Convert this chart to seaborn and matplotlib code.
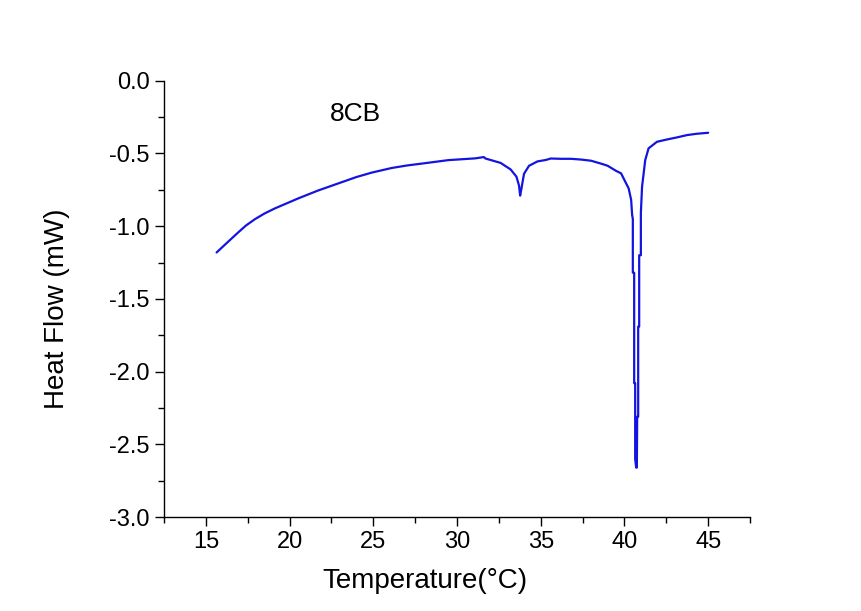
import matplotlib
matplotlib.use("Agg")
import matplotlib.pyplot as plt
from matplotlib.ticker import MultipleLocator
import pandas as pd
import seaborn as sns

sns.set_theme(style="ticks")
plt.rcParams['font.family'] = ['Liberation Sans', 'DejaVu Sans']
plt.rcParams['text.color'] = 'black'
plt.rcParams['axes.labelcolor'] = 'black'

# DSC trace of 8CB
temperature = [15.64, 16.3, 16.93, 17.4, 17.93, 18.5, 19.12, 20.52, 21.7, 22.91,
               24.0, 24.9, 26.1, 27.0, 28.09, 29.48, 31.08, 31.6, 31.7, 32.6,
               33.2, 33.55, 33.7, 33.77, 33.85, 34.0, 34.3, 34.8, 35.3, 35.6,
               36.2, 36.8, 37.4, 38.0, 38.6, 39.0, 39.5, 39.8, 40.05, 40.25,
               40.4, 40.46, 40.5, 40.5, 40.58, 40.58, 40.64, 40.64, 40.70, 40.74,
               40.76, 40.82, 40.82, 40.88, 40.88, 40.98, 40.98, 41.05, 41.24, 41.44,
               41.94, 42.5, 43.13, 43.73, 44.3, 45.0]
heat_flow = [-1.181, -1.11, -1.043, -0.995, -0.952, -0.913, -0.878, -0.809, -0.755, -0.706,
             -0.662, -0.632, -0.600, -0.583, -0.567, -0.546, -0.534, -0.525, -0.535, -0.565,
             -0.61, -0.66, -0.72, -0.79, -0.74, -0.64, -0.585, -0.555, -0.545, -0.535,
             -0.537, -0.537, -0.542, -0.55, -0.57, -0.585, -0.62, -0.637, -0.695, -0.74,
             -0.82, -0.925, -0.95, -1.32, -1.32, -2.08, -2.08, -2.60, -2.66, -2.66,
             -2.31, -2.31, -1.69, -1.69, -1.20, -1.20, -0.91, -0.73, -0.546, -0.465,
             -0.42, -0.405, -0.39, -0.374, -0.365, -0.358]

df = pd.DataFrame({"Temperature": temperature, "HeatFlow": heat_flow})

fig = plt.figure(figsize=(8.62, 6.11), dpi=100)
ax = fig.add_axes([0.1903, 0.1538, 0.6798, 0.7141])

sns.lineplot(data=df, x="Temperature", y="HeatFlow", ax=ax, sort=False,
             estimator=None, color="#1414e0", linewidth=1.6)

ax.set_xlim(12.5, 47.5)
ax.set_ylim(-3.0, 0.0)
ax.xaxis.set_major_locator(MultipleLocator(5))
ax.xaxis.set_minor_locator(MultipleLocator(2.5))
ax.yaxis.set_major_locator(MultipleLocator(0.5))
ax.yaxis.set_minor_locator(MultipleLocator(0.25))
ax.set_yticklabels([f"{v:.1f}" for v in ax.get_yticks()])

sns.despine(ax=ax)
for s in ["left", "bottom"]:
    ax.spines[s].set_linewidth(1.0)
    ax.spines[s].set_color("black")
ax.tick_params(which="major", direction="out", length=6.7, width=1.0,
               labelsize=17, pad=3.5, colors="black")
ax.tick_params(which="minor", direction="out", length=4.3, width=1.0, colors="black")

ax.set_xlabel("Temperature(\u00b0C)", fontsize=20)
ax.set_ylabel("Heat Flow (mW)", fontsize=20)
ax.xaxis.set_label_coords(0.445, -0.117)
ax.yaxis.set_label_coords(-0.16, 0.477)

ax.text(23.94, -0.229, "8CB", fontsize=19, ha="center", va="center")

fig.savefig("out.png", dpi=100)
